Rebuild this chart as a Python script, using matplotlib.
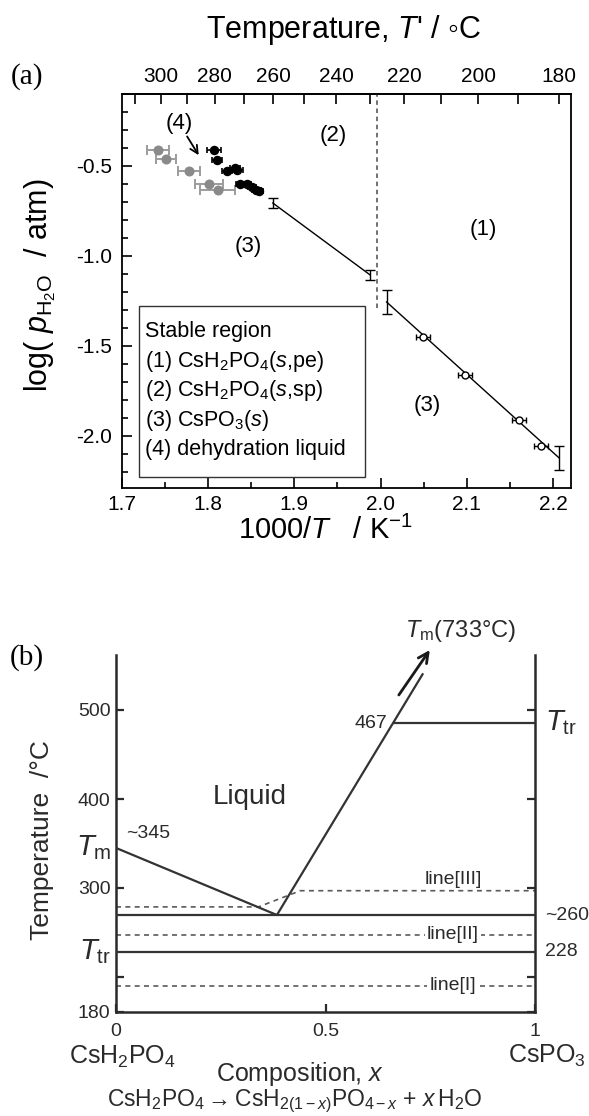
import numpy as np
import matplotlib
matplotlib.use("Agg")
import matplotlib.pyplot as plt
from matplotlib.patches import Rectangle
from matplotlib.ticker import FixedLocator, MultipleLocator, FormatStrFormatter

plt.rcParams["font.family"] = ["Liberation Sans", "DejaVu Sans"]
plt.rcParams["mathtext.fontset"] = "custom"
plt.rcParams["mathtext.rm"] = "Liberation Sans"
plt.rcParams["mathtext.it"] = "Liberation Sans:italic"
plt.rcParams["mathtext.bf"] = "Liberation Sans:bold"

# ---------------- (a) log(pH2O) vs 1000/T ----------------
# dehydration liquid, literature (gray)
gray_x = [1.742, 1.751, 1.778, 1.801, 1.811]
gray_y = [-0.411, -0.461, -0.528, -0.600, -0.633]
gray_xerr = [0.0125, 0.012, 0.013, 0.0165, 0.020]

# dehydration liquid, this work (black)
black_x = [1.807, 1.810, 1.822, 1.831, 1.834, 1.837, 1.845, 1.851, 1.856, 1.859]
black_y = [-0.411, -0.467, -0.528, -0.511, -0.520, -0.600, -0.600, -0.617, -0.633, -0.638]
black_xerr = [0.008, 0.006, 0.006, 0.006, 0.006, 0.005, 0.005, 0.005, 0.005, 0.005]

# equilibrium points with vertical uncertainty only
bar_x = [1.875, 1.988, 2.007, 2.207]
bar_y = [-0.706, -1.106, -1.256, -2.122]
bar_yerr = [0.028, 0.028, 0.068, 0.067]

# open circles on the low-temperature boundary
open_x = [2.049, 2.098, 2.161, 2.186]
open_y = [-1.450, -1.661, -1.911, -2.059]
open_xerr = [0.008, 0.008, 0.008, 0.008]

# boundary lines
bound1_x = [1.875, 1.988]
bound1_y = [-0.706, -1.106]
bound2_x = [2.007, 2.207]
bound2_y = [-1.256, -2.122]

# superprotonic transition temperature (deg C) and lower end of its marker line
t_transition = 228.0
transition_ybottom = -1.29

top_major = [300, 280, 260, 240, 220, 200, 180]
top_minor = [310, 290, 270, 250, 230, 210, 190]

legend_lines = [
    "Stable region",
    r"(1) CsH$_2$PO$_4$($s$,pe)",
    r"(2) CsH$_2$PO$_4$($s$,sp)",
    r"(3) CsPO$_3$($s$)",
    "(4) dehydration liquid",
]

# ---------------- (b) phase diagram ----------------
liq_left_x = [0.0, 0.384]
liq_left_T = [345, 260]
liq_right_x = [0.384, 0.733]
liq_right_T = [260, 540]
eutectic_T = 260
transition_T = 228
cspo3_x = [0.661, 1.0]
cspo3_T = [467, 467]
line3_x = [0.0, 0.34, 0.44, 1.0]
line3_T = [272, 272, 296, 296]
line2_T = 243
line1_T = 195

b_yticks = [180, 200, 300, 400, 500]
b_yticklabels = ["180", "", "300", "400", "500"]
b_xticks = [0, 0.5, 1]
b_xticklabels = ["0", "0.5", "1"]

# non-uniform temperature axis of the schematic (value -> height)
T_anchor = np.array([180, 200, 228, 260, 300, 400, 467, 500, 560], float)
H_anchor = np.array([0, 35, 60, 97, 124, 213, 289, 302, 357], float)


def _pw(v, xp, fp):
    v = np.asarray(v, float)
    out = np.interp(v, xp, fp)
    lo_slope = (fp[1] - fp[0]) / (xp[1] - xp[0])
    hi_slope = (fp[-1] - fp[-2]) / (xp[-1] - xp[-2])
    out = np.where(v < xp[0], fp[0] + (v - xp[0]) * lo_slope, out)
    out = np.where(v > xp[-1], fp[-1] + (v - xp[-1]) * hi_slope, out)
    return out


def t_forward(v):
    return _pw(v, T_anchor, H_anchor)


def t_inverse(h):
    return _pw(h, H_anchor, T_anchor)


def k_to_c(x):
    x = np.asarray(x, float)
    with np.errstate(divide="ignore", invalid="ignore"):
        return np.where(x != 0, 1000.0 / np.where(x != 0, x, 1) - 273.15, np.inf)


def c_to_k(t):
    t = np.asarray(t, float)
    with np.errstate(divide="ignore", invalid="ignore"):
        d = t + 273.15
        return np.where(d != 0, 1000.0 / np.where(d != 0, d, 1), np.inf)


W, H = 589, 1116
fig = plt.figure(figsize=(W / 100, H / 100), dpi=100)


def box(l, t, r, b):
    return [l / W, 1 - b / H, (r - l) / W, (b - t) / H]


# ===================== panel (a) =====================
axa = fig.add_axes(box(122, 94, 571, 488))
axa.set_xlim(1.7, 2.221)
axa.set_ylim(-2.29, -0.1)
for s in axa.spines.values():
    s.set_linewidth(1.3)

axa.errorbar(gray_x, gray_y, xerr=gray_xerr, fmt="o", color="#8a8a8a",
             ecolor="#9c9c9c", ms=6.2, capsize=3.5, elinewidth=1.4,
             capthick=1.4, zorder=3)
axa.errorbar(black_x, black_y, xerr=black_xerr, fmt="o", color="black",
             ms=5.8, capsize=2, elinewidth=1.2, capthick=1.2, zorder=4)
axa.plot(bound1_x, bound1_y, color="black", lw=1.0, zorder=2)
axa.plot(bound2_x, bound2_y, color="black", lw=1.0, zorder=2)
axa.errorbar(bar_x, bar_y, yerr=bar_yerr, fmt="none", ecolor="black",
             capsize=3.5, elinewidth=1.0, capthick=1.0, zorder=3)
axa.errorbar(open_x, open_y, xerr=open_xerr, fmt="o", mfc="white",
             mec="black", mew=1.0, ecolor="black", ms=5, capsize=2.5,
             elinewidth=1.0, capthick=1.0, zorder=4)

xt = float(c_to_k(t_transition))
axa.plot([xt, xt], [transition_ybottom, -0.1], color="#666666", lw=1.3,
         ls=(0, (2.5, 2.0)), zorder=1)

axa.annotate("(4)", xy=(1.789, -0.44), xytext=(1.766, -0.262),
             ha="center", va="center", fontsize=16,
             arrowprops=dict(arrowstyle="->", lw=1.3, color="black",
                             shrinkA=0, shrinkB=0, mutation_scale=14))
axa.text(1.945, -0.33, "(2)", fontsize=16, ha="center", va="center")
axa.text(2.119, -0.855, "(1)", fontsize=16, ha="center", va="center")
axa.text(1.847, -0.95, "(3)", fontsize=16, ha="center", va="center")
axa.text(2.054, -1.83, "(3)", fontsize=16, ha="center", va="center")

axa.add_patch(Rectangle((0.038, 0.028), 0.503, 0.435, transform=axa.transAxes,
                        fill=False, lw=1.0, ec="#333333", zorder=5))
ys = [0.397, 0.322, 0.247, 0.172, 0.097]
for yy, s in zip(ys, legend_lines):
    axa.text(0.051, yy, s, transform=axa.transAxes, fontsize=15.5,
             ha="left", va="center")

axa.xaxis.set_major_locator(MultipleLocator(0.1))
axa.xaxis.set_minor_locator(MultipleLocator(0.05))
axa.yaxis.set_major_locator(MultipleLocator(0.5))
axa.yaxis.set_minor_locator(MultipleLocator(0.1))
axa.xaxis.set_major_formatter(FormatStrFormatter("%.1f"))
axa.yaxis.set_major_formatter(FormatStrFormatter("%.1f"))
axa.tick_params(which="both", direction="in", top=False, right=False,
                width=1.2, labelsize=15)
axa.tick_params(which="major", length=7)
axa.tick_params(axis="x", which="major", pad=5)
axa.tick_params(axis="y", which="major", pad=7)
axa.tick_params(which="minor", length=4)

sec = axa.secondary_xaxis("top", functions=(k_to_c, c_to_k))
sec.set_xticks(top_major)
sec.set_xticklabels([str(v) for v in top_major])
sec.xaxis.set_minor_locator(FixedLocator(top_minor))
sec.tick_params(which="both", direction="in", width=1.2, labelsize=15)
sec.tick_params(which="major", length=7, pad=6)
sec.tick_params(which="minor", length=7)
sec.spines["top"].set_linewidth(1.3)

fig.text(343 / W, 1 - 30 / H, "Temperature, $T$' / \u25e6C", fontsize=22,
         ha="center", va="center")
fig.text(325 / W, 1 - 530 / H, r"1000/$T$   / K$^{-1}$", fontsize=21,
         ha="center", va="center")
fig.text(40 / W, 1 - 285 / H, r"log( $p_{\mathrm{H_2O}}$  / atm)", fontsize=22,
         ha="center", va="center", rotation=90)
fig.text(27 / W, 1 - 77 / H, "(a)", fontsize=21, ha="center", va="center",
         family=["Liberation Serif", "DejaVu Serif"])

# ===================== panel (b) =====================
ink = "#2a2a2a"
axb = fig.add_axes(box(116, 655, 535, 1012))
axb.set_yscale("function", functions=(t_forward, t_inverse))
axb.set_ylim(180, 560)
axb.set_xlim(0, 1)
axb.spines["top"].set_visible(False)
for k in ("left", "right", "bottom"):
    axb.spines[k].set_linewidth(1.8)
    axb.spines[k].set_color(ink)

solid = dict(color="#333333", lw=1.6, solid_capstyle="butt", zorder=3)
dashed = dict(color="#5a5a5a", lw=1.2, ls=(0, (3.0, 2.6)), zorder=2)

axb.plot(liq_left_x, liq_left_T, **solid)
axb.plot(liq_right_x, liq_right_T, clip_on=False, **solid)
axb.plot([0, 1], [eutectic_T, eutectic_T], **solid)
axb.plot([0, 1], [transition_T, transition_T], **solid)
axb.plot(cspo3_x, cspo3_T, **solid)
axb.plot(line3_x, line3_T, **dashed)
axb.plot([0, 1], [line2_T, line2_T], **dashed)
axb.plot([0, 1], [line1_T, line1_T], **dashed)

lab_bbox = dict(facecolor="white", edgecolor="none", pad=1.5)
axb.text(0.804, line2_T, "line[II]", fontsize=14, ha="center", va="center",
         color=ink, bbox=lab_bbox, zorder=4)
axb.text(0.804, line1_T, "line[I]", fontsize=14, ha="center", va="center",
         color=ink, bbox=lab_bbox, zorder=4)
axb.annotate("line[III]", xy=(0.804, line3_T[-1]), xytext=(0, 2),
             textcoords="offset points", fontsize=14, ha="center",
             va="bottom", color=ink)

axb.annotate("", xy=(0.749, 1.014), xytext=(0.675, 0.888),
             xycoords="axes fraction", textcoords="axes fraction",
             arrowprops=dict(arrowstyle="->", lw=2.0, color="#1a1a1a",
                             mutation_scale=18, shrinkA=0, shrinkB=0),
             annotation_clip=False)
axb.text(0.69, 1.066, r"$T_{\mathrm{m}}$(733°C)", transform=axb.transAxes,
         fontsize=17, ha="left", va="center", color=ink)

axb.text(0.647, cspo3_T[0], "467", fontsize=14, ha="right", va="center",
         color=ink)
axb.text(0.32, 402, "Liquid", fontsize=20, ha="center", va="center",
         color=ink)
axb.annotate("~345", xy=(0.0, liq_left_T[0]), xytext=(7, 4),
             textcoords="offset points", fontsize=14, ha="left",
             va="bottom", color=ink)

ylab = axb.get_yaxis_transform()
axb.text(-0.012, liq_left_T[0], r"$T_{\mathrm{m}}$", transform=ylab,
         fontsize=21, ha="right", va="center", color=ink)
axb.text(-0.012, transition_T, r"$T_{\mathrm{tr}}$", transform=ylab,
         fontsize=21, ha="right", va="center", color=ink)
axb.text(1.024, cspo3_T[0], r"$T_{\mathrm{tr}}$", transform=ylab,
         fontsize=21, ha="left", va="center", color=ink)
axb.text(1.024, eutectic_T, "~260", transform=ylab, fontsize=14,
         ha="left", va="center", color=ink)
axb.text(1.024, transition_T, "228", transform=ylab, fontsize=14,
         ha="left", va="center", color=ink)

axb.set_yticks(b_yticks)
axb.set_yticklabels(b_yticklabels)
axb.yaxis.set_minor_locator(FixedLocator([]))
axb.set_xticks(b_xticks)
axb.set_xticklabels(b_xticklabels)
axb.tick_params(axis="y", direction="in", left=True, right=True, length=6,
                width=1.6, labelsize=14, colors=ink, pad=4)
axb.tick_params(axis="x", direction="in", length=6, width=1.6,
                labelsize=14, colors=ink, pad=8)

fig.text(42 / W, 1 - 840 / H, "Temperature  /°C", fontsize=19, rotation=90,
         ha="center", va="center", color=ink)
fig.text(122 / W, 1 - 1057 / H, r"CsH$_2$PO$_4$", fontsize=18, ha="center",
         va="center", color=ink)
fig.text(547 / W, 1 - 1056 / H, r"CsPO$_3$", fontsize=18, ha="center",
         va="center", color=ink)
fig.text(300 / W, 1 - 1074 / H, r"Composition, $x$", fontsize=18,
         ha="center", va="center", color=ink)
fig.text(295 / W, 1 - 1101 / H,
         r"CsH$_2$PO$_4$$\rightarrow$CsH$_{2(1-x)}$PO$_{4-x}$ + $x\,$H$_2$O",
         fontsize=16.5, ha="center", va="center", color=ink)
fig.text(27 / W, 1 - 658 / H, "(b)", fontsize=21, ha="center", va="center",
         family=["Liberation Serif", "DejaVu Serif"])

fig.savefig("out.png", dpi=100)
